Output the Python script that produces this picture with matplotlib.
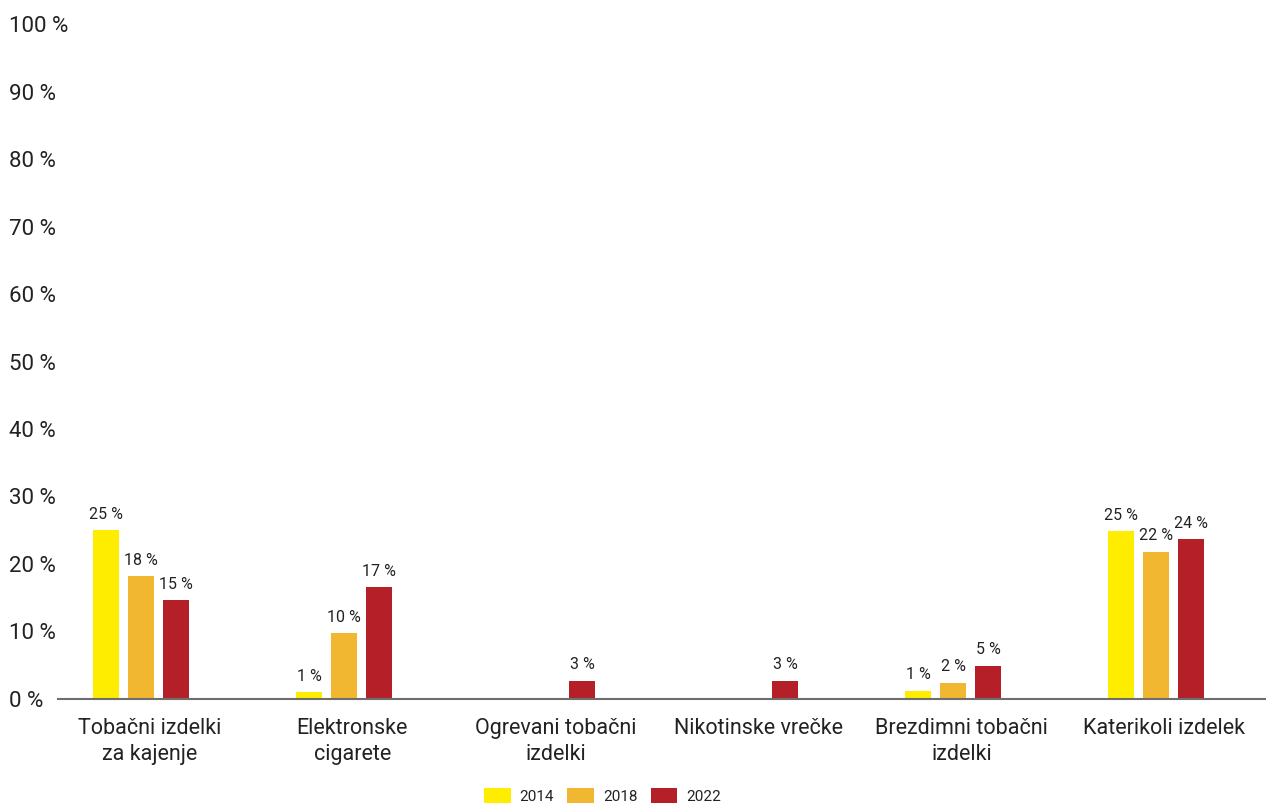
import numpy as np
import matplotlib.pyplot as plt
from matplotlib.patches import Patch

plt.rcParams.update({
    "font.family": ["Roboto", "DejaVu Sans"],
    "text.color": "#222222",
    "axes.labelcolor": "#222222",
    "xtick.color": "#222222",
    "ytick.color": "#222222",
})

# Data
categories = [
    "Tobačni izdelki\nza kajenje",
    "Elektronske\ncigarete",
    "Ogrevani tobačni\nizdelki",
    "Nikotinske vrečke",
    "Brezdimni tobačni\nizdelki",
    "Katerikoli izdelek",
]
years = ["2014", "2018", "2022"]
share_2014 = [25.0, 1.0, None, None, 1.2, 24.9]
share_2018 = [18.2, 9.7, None, None, 2.4, 21.8]
share_2022 = [14.6, 16.6, 2.7, 2.7, 4.9, 23.7]
y_ticks = [0, 10, 20, 30, 40, 50, 60, 70, 80, 90, 100]

colors = ["#FFED00", "#F1B731", "#B52028"]
series = [share_2014, share_2018, share_2022]

fig = plt.figure(figsize=(12.66, 8.07), dpi=100)
ax = fig.add_axes([0.0458, 0.134, 0.9542, 0.836])

x = np.arange(len(categories))
step = 0.172
width = 0.128

for i, (vals, col) in enumerate(zip(series, colors)):
    for xi, v in zip(x, vals):
        if v is None:
            continue
        xpos = xi + (i - 1) * step
        ax.bar(xpos, v, width=width, color=col, zorder=2)
        ax.annotate(f"{v:.0f} %", (xpos, v), xytext=(0, 6),
                    textcoords="offset points", ha="center", va="bottom",
                    fontsize=11.5)

ax.set_xlim(-0.41, 5.54)
ax.set_ylim(0, 100)

ax.set_yticks(y_ticks)
ax.set_yticklabels([f"{t} %" for t in y_ticks], fontsize=16, ha="left")
ax.tick_params(axis="y", length=0, pad=35)

ax.set_xticks(x + 0.04)
ax.set_xticklabels(categories, fontsize=15.5, linespacing=1.3)
ax.tick_params(axis="x", length=0, pad=14)

for side in ["top", "right", "left"]:
    ax.spines[side].set_visible(False)
ax.spines["bottom"].set_color("#6e6e6e")
ax.spines["bottom"].set_linewidth(1.5)
ax.spines["bottom"].set_zorder(3)

handles = [Patch(facecolor=c, edgecolor="none") for c in colors]
fig.legend(handles, years, loc="center", bbox_to_anchor=(0.476, 0.014),
           ncol=3, frameon=False, fontsize=11, handlelength=1.75,
           handleheight=1.2, handletextpad=0.6, columnspacing=0.85)

fig.savefig("out.png", dpi=100, facecolor="white")
